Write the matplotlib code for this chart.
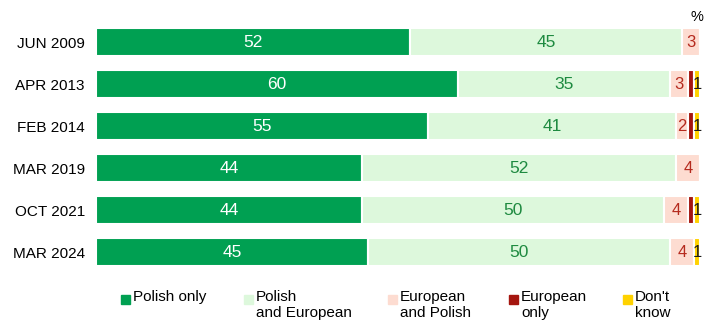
import matplotlib.pyplot as plt
from matplotlib.patches import Rectangle
import numpy as np

plt.rcParams['font.family'] = ['Liberation Sans', 'DejaVu Sans']

# survey waves, top to bottom
fechas = ['JUN 2009', 'APR 2013', 'FEB 2014', 'MAR 2019', 'OCT 2021', 'MAR 2024']

polaco_solo = [52, 60, 55, 44, 44, 45]
polaco_y_europeo = [45, 35, 41, 52, 50, 50]
europeo_y_polaco = [3, 3, 2, 4, 4, 4]
europeo_solo = [0, 1, 1, 0, 1, 0]
no_sabe = [0, 1, 1, 0, 1, 1]

series = [polaco_solo, polaco_y_europeo, europeo_y_polaco, europeo_solo, no_sabe]
nombres = ['Polish only', 'Polish\nand European', 'European\nand Polish',
           'European\nonly', "Don't\nknow"]
colores = ['#00A052', '#DDF8DC', '#FDDCD1', '#A5160F', '#FFD200']
colores_texto = ['white', '#1E8A40', '#B52A1E', 'white', '#1a1a1a']

fig = plt.figure(figsize=(7.08, 3.24), dpi=100)
ax = fig.add_axes([96 / 708, 1 - 273 / 324, 604 / 708, 252 / 324])

y = np.arange(len(fechas))
izq = np.zeros(len(fechas))
for i, valores in enumerate(series):
    valores = np.array(valores, dtype=float)
    ax.barh(y, valores, left=izq, height=0.65, color=colores[i],
            edgecolor='white', linewidth=1.5)
    for j, v in enumerate(valores):
        if v <= 0:
            continue
        # the thin red slivers carry no label
        if i == 3:
            continue
        tam = 12.5 if v >= 5 else 12
        ax.text(izq[j] + v / 2, y[j] + 0.02, str(int(v)), ha='center', va='center',
                color=colores_texto[i], fontsize=tam)
    izq += valores

ax.set_xlim(0, 100)
ax.set_ylim(len(fechas) - 0.5, -0.5)
ax.set_yticks(y)
ax.set_yticklabels(fechas, fontsize=11)
ax.tick_params(axis='y', length=0, pad=8)
ax.set_xticks([])
for s in ax.spines.values():
    s.set_visible(False)

fig.text(697 / 708, 1 - 17 / 324, '%', ha='center', va='center', fontsize=10.5)

# legend drawn by hand so the entries sit where they should
x_cuadro = [121, 244, 388, 509, 623]
for xc, nombre, col in zip(x_cuadro, nombres, colores):
    fig.patches.append(Rectangle((xc / 708, 1 - 304 / 324), 9 / 708, 9 / 324,
                                 transform=fig.transFigure, color=col))
    fig.text((xc + 12) / 708, 1 - 290 / 324, nombre, ha='left', va='top',
             fontsize=11, linespacing=1.2)

fig.savefig('out.png', dpi=100)
